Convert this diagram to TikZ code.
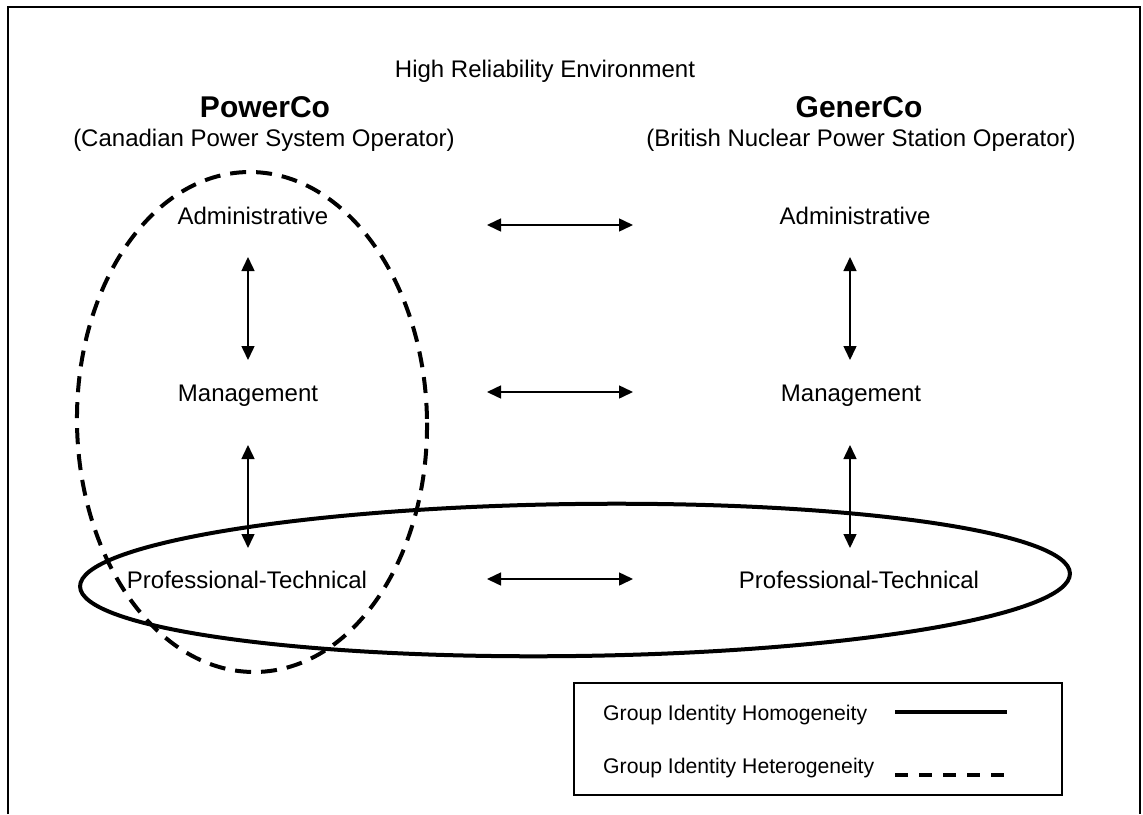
\documentclass[tikz,border=0pt]{standalone}
\usepackage{fontspec}
\setmainfont{Liberation Sans}
\usetikzlibrary{arrows.meta,shapes.geometric}

\tikzset{
  txt/.style={inner sep=0pt, anchor=base, font=\fontsize{24}{28}\selectfont},
  legtxt/.style={inner sep=0pt, anchor=base west, font=\fontsize{21.2}{25}\selectfont},
  head/.style={inner sep=0pt, anchor=base, font=\fontsize{30}{34}\selectfont\bfseries},
  link/.style={line width=1.5pt, {Triangle[length=14pt,width=13pt]}-{Triangle[length=14pt,width=13pt]}},
  homog/.style={line width=4pt},
  heterog/.style={line width=4pt, dash pattern=on 16pt off 10pt},
  frameline/.style={line width=1.8pt},
}

\begin{document}
\begin{tikzpicture}[x=1pt, y=-1pt]
  \useasboundingbox (0,0) rectangle (1143,814);

  % open frame around the scene
  \draw[frameline] (8,814) -- (8,7) -- (1140,7) -- (1140,814);

  % titles
  \node[txt] (env) at (545,77) {High Reliability Environment};
  \node[head] (pc) at (265,117) {PowerCo};
  \node[txt] (pcsub) at (264,146) {(Canadian Power System Operator)};
  \node[head] (gc) at (859,117) {GenerCo};
  \node[txt] (gcsub) at (861,146) {(British Nuclear Power Station Operator)};

  % organisational levels
  \node[txt] (admL) at (253,224) {Administrative};
  \node[txt] (mgtL) at (248,401) {Management};
  \node[txt] (proL) at (247,588) {Professional-Technical};
  \node[txt] (admR) at (855,224) {Administrative};
  \node[txt] (mgtR) at (851,401) {Management};
  \node[txt] (proR) at (859,588) {Professional-Technical};

  % arrow end points
  \coordinate (h1a) at (487,225); \coordinate (h1b) at (633,225);
  \coordinate (h2a) at (487,392); \coordinate (h2b) at (633,392);
  \coordinate (h3a) at (487,579); \coordinate (h3b) at (633,579);
  \coordinate (v1a) at (248,257); \coordinate (v1b) at (248,360);
  \coordinate (v2a) at (248,445); \coordinate (v2b) at (248,548);
  \coordinate (v3a) at (850,257); \coordinate (v3b) at (850,360);
  \coordinate (v4a) at (850,445); \coordinate (v4b) at (850,548);

  \draw[link] (h1a) -- (h1b);
  \draw[link] (h2a) -- (h2b);
  \draw[link] (h3a) -- (h3b);
  \draw[link] (v1a) -- (v1b);
  \draw[link] (v2a) -- (v2b);
  \draw[link] (v3a) -- (v3b);
  \draw[link] (v4a) -- (v4b);

  % identity groupings
  \node[homog, draw, ellipse, inner sep=0pt, minimum width=990pt, minimum height=152pt, rotate=0.75] (homoset) at (575,580) {};
  \node[heterog, draw, ellipse, inner sep=0pt, minimum width=350pt, minimum height=500pt, rotate=1] (heteroset) at (252,422) {};

  % legend
  \node[draw, line width=1.2pt, inner sep=0pt, minimum width=488pt, minimum height=112pt] (legend) at (818,739) {};
  \node[legtxt] (lgHom) at (603,720) {Group Identity Homogeneity};
  \node[legtxt] (lgHet) at (603,773) {Group Identity Heterogeneity};
  \coordinate (sHa) at (895,712); \coordinate (sHb) at (1007,712);
  \coordinate (sTa) at (895,775); \coordinate (sTb) at (1007,775);
  \draw[line width=4pt] (sHa) -- (sHb);
  \draw[line width=4pt, dash pattern=on 13pt off 11pt] (sTa) -- (sTb);
\end{tikzpicture}
\end{document}
